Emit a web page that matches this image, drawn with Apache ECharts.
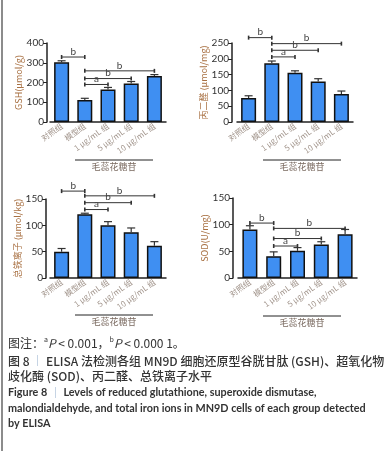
<!DOCTYPE html>
<html>
<head>
<meta charset="utf-8">
<script src="https://cdn.jsdelivr.net/npm/echarts@6/dist/echarts.min.js"></script>
<style>
  html, body { margin: 0; padding: 0; background: #fff; }
  #chart { width: 386px; height: 451px; }
</style>
</head>
<body>
<div id="chart"></div>
<script>
const groups = ["对照组", "模型组", "1 μg/mL 组", "5 μg/mL 组", "10 μg/mL 组"];

// mean values, top of error bar, significance brackets [from, to, y, letter]
const gshMean = [302, 112, 165, 195, 233];
const gshErr = [310, 120, 175, 205, 240];
const gshSig = [[0, 1, 329, "b"], [1, 4, 259, "b"], [1, 3, 220, "b"], [1, 2, 190, "a"]];
const gshTicks = [0, 400, 100];

const mdaMean = [76, 186, 156, 128, 89];
const mdaErr = [83, 193, 162, 137, 98];
const mdaSig = [[0, 1, 267, "b"], [1, 4, 248, "b"], [1, 3, 227, "b"], [1, 2, 206, "a"]];
const mdaTicks = [0, 250, 50];

const ironMean = [50, 121, 100, 87, 61];
const ironErr = [56, 123, 107, 95, 69];
const ironSig = [[0, 1, 165, "b"], [1, 4, 156, "b"], [1, 3, 143, "b"], [1, 2, 130, "a"]];
const ironTicks = [0, 150, 50];

const sodMean = [91, 41, 51, 63, 82];
const sodErr = [98, 49, 57, 68, 91];
const sodSig = [[0, 1, 103, "b"], [1, 4, 93, "b"], [1, 3, 74, "b"], [1, 2, 60, "a"]];
const sodTicks = [0, 150, 50];

const panels = [
  { mean: gshMean, err: gshErr, sig: gshSig, ticks: gshTicks, name: "GSH(μmol/g)",
    grid: { left: 50, top: 43, width: 116, height: 79 }, offset: 3 },
  { mean: mdaMean, err: mdaErr, sig: mdaSig, ticks: mdaTicks, name: "丙二醛 (μmol/mg)",
    grid: { left: 237, top: 43, width: 116, height: 79 }, offset: 5 },
  { mean: ironMean, err: ironErr, sig: ironSig, ticks: ironTicks, name: "总铁离子 (μmol/kg)",
    grid: { left: 50, top: 199, width: 116, height: 79 }, offset: 4 },
  { mean: sodMean, err: sodErr, sig: sodSig, ticks: sodTicks, name: "SOD(U/mg)",
    grid: { left: 238, top: 198, width: 119, height: 80 }, offset: 5 },
];

const cjk = '"Noto Sans CJK SC", "Noto Sans", sans-serif';
const ink = "#222";

const chart = echarts.init(document.getElementById("chart"));

const grids = [], xAxes = [], yAxes = [], series = [];

panels.forEach((p, i) => {
  grids.push(p.grid);
  xAxes.push({
    type: "category",
    gridIndex: i,
    data: groups,
    axisLine: { lineStyle: { color: ink, width: 1.5 } },
    axisTick: { alignWithLabel: true, length: 3, lineStyle: { color: ink } },
    axisLabel: {
      interval: 0,
      rotate: 36,
      fontSize: 8,
      margin: 3,
      color: "#a0938a",
      fontFamily: cjk,
    },
  });
  yAxes.push({
    type: "value",
    gridIndex: i,
    min: p.ticks[0],
    max: p.ticks[1],
    interval: p.ticks[2],
    offset: p.offset,
    name: p.name,
    nameLocation: "middle",
    nameGap: 24,
    nameTextStyle: { fontSize: 9, color: "#a87042", fontFamily: cjk },
    axisLine: { show: true, lineStyle: { color: ink, width: 1.5 } },
    axisTick: { show: true, length: 4, lineStyle: { color: ink } },
    axisLabel: { fontSize: 10, color: "#333", margin: 3, fontFamily: "Lato, sans-serif" },
    splitLine: { show: false },
  });

  series.push({
    type: "bar",
    xAxisIndex: i,
    yAxisIndex: i,
    data: p.mean,
    barWidth: 15,
    itemStyle: { color: "#3f8ff2", borderColor: "#111", borderWidth: 1.5 },
    z: 2,
  });

  // upper error bars
  series.push({
    type: "custom",
    xAxisIndex: i,
    yAxisIndex: i,
    z: 3,
    data: p.mean.map((m, k) => [k, m, p.err[k]]),
    renderItem: (params, api) => {
      const base = api.coord([api.value(0), api.value(1)]);
      const top = api.coord([api.value(0), api.value(2)]);
      const st = { stroke: "#333", lineWidth: 1.2 };
      return {
        type: "group",
        children: [
          { type: "line", shape: { x1: base[0], y1: base[1], x2: top[0], y2: top[1] }, style: st },
          { type: "line", shape: { x1: top[0] - 4, y1: top[1], x2: top[0] + 4, y2: top[1] }, style: st },
        ],
      };
    },
  });

  // significance brackets
  series.push({
    type: "custom",
    xAxisIndex: i,
    yAxisIndex: i,
    clip: false,
    z: 4,
    data: p.sig.map((s) => [s[0], s[1], s[2]]),
    renderItem: (params, api) => {
      const a = api.coord([api.value(0), api.value(2)]);
      const b = api.coord([api.value(1), api.value(2)]);
      const letter = p.sig[params.dataIndex][3];
      const st = { stroke: "#333", lineWidth: 1 };
      return {
        type: "group",
        children: [
          { type: "line", shape: { x1: a[0], y1: a[1], x2: b[0], y2: b[1] }, style: st },
          { type: "line", shape: { x1: a[0], y1: a[1] - 2, x2: a[0], y2: a[1] + 2 }, style: { stroke: "#333", lineWidth: 1.6 } },
          { type: "line", shape: { x1: b[0], y1: b[1] - 2, x2: b[0], y2: b[1] + 2 }, style: { stroke: "#333", lineWidth: 1.6 } },
          {
            type: "text",
            style: {
              text: letter,
              x: (a[0] + b[0]) / 2,
              y: a[1] - 0.5,
              align: "center",
              verticalAlign: "bottom",
              fontSize: 10,
              fontFamily: "Lato, sans-serif",
              fill: "#444",
            },
          },
        ],
      };
    },
  });
});

// "毛蕊花糖苷" group lines under the labels
const groupMarks = [
  { x1: 75, x2: 153, y: 160 },
  { x1: 263, x2: 341, y: 160 },
  { x1: 75, x2: 153, y: 315 },
  { x1: 263, x2: 341, y: 316 },
];
const graphic = [
  { type: "line", shape: { x1: 2, y1: 0, x2: 2, y2: 451 }, style: { stroke: "#666", lineWidth: 1.5 } },
];
groupMarks.forEach((g) => {
  graphic.push({ type: "line", shape: { x1: g.x1, y1: g.y, x2: g.x2, y2: g.y }, style: { stroke: "#222", lineWidth: 1 } });
  graphic.push({
    type: "text",
    x: (g.x1 + g.x2) / 2,
    y: g.y + 7,
    style: { text: "毛蕊花糖苷", align: "center", verticalAlign: "middle", fontSize: 9, fill: "#7a6a60", fontFamily: cjk },
  });
});

const capRich = {
  sup: { fontSize: 7, verticalAlign: "top", padding: [0, 0, 7, 0], fontFamily: cjk, fill: "#333" },
  it: { fontStyle: "italic", fontSize: 12, fontFamily: cjk, fill: "#333" },
  sep: { fontSize: 11, fill: "#8aa6c8", fontFamily: cjk },
};
const latin = "Lato, sans-serif";
const capLines = [
  { y: 343, text: "图注：{sup|a}{it|P} < 0.001，{sup|b}{it|P} < 0.000 1。", size: 12, weight: "normal", font: cjk },
  { y: 361, text: "图 8 {sep|｜} ELISA 法检测各组 MN9D 细胞还原型谷胱甘肽 (GSH)、超氧化物", size: 12, weight: 500, font: cjk },
  { y: 376, text: "歧化酶 (SOD)、丙二醛、总铁离子水平", size: 12, weight: 500, font: cjk },
  { y: 393, text: "Figure 8 {sep|｜} Levels of reduced glutathione, superoxide dismutase,", size: 10.8, weight: "bold", font: latin },
  { y: 409, text: "malondialdehyde, and total iron ions in MN9D cells of each group detected", size: 10.8, weight: "bold", font: latin },
  { y: 424, text: "by ELISA", size: 10.8, weight: "bold", font: latin },
];
capLines.forEach((c) => {
  graphic.push({
    type: "text",
    x: 8,
    y: c.y,
    style: {
      text: c.text,
      verticalAlign: "middle",
      fontSize: c.size,
      fontWeight: c.weight,
      fontFamily: c.font,
      fill: "#333",
      rich: capRich,
    },
  });
});

chart.setOption({
  backgroundColor: "#fff",
  animation: false,
  grid: grids,
  xAxis: xAxes,
  yAxis: yAxes,
  series: series,
  graphic: graphic,
});
</script>
</body>
</html>
